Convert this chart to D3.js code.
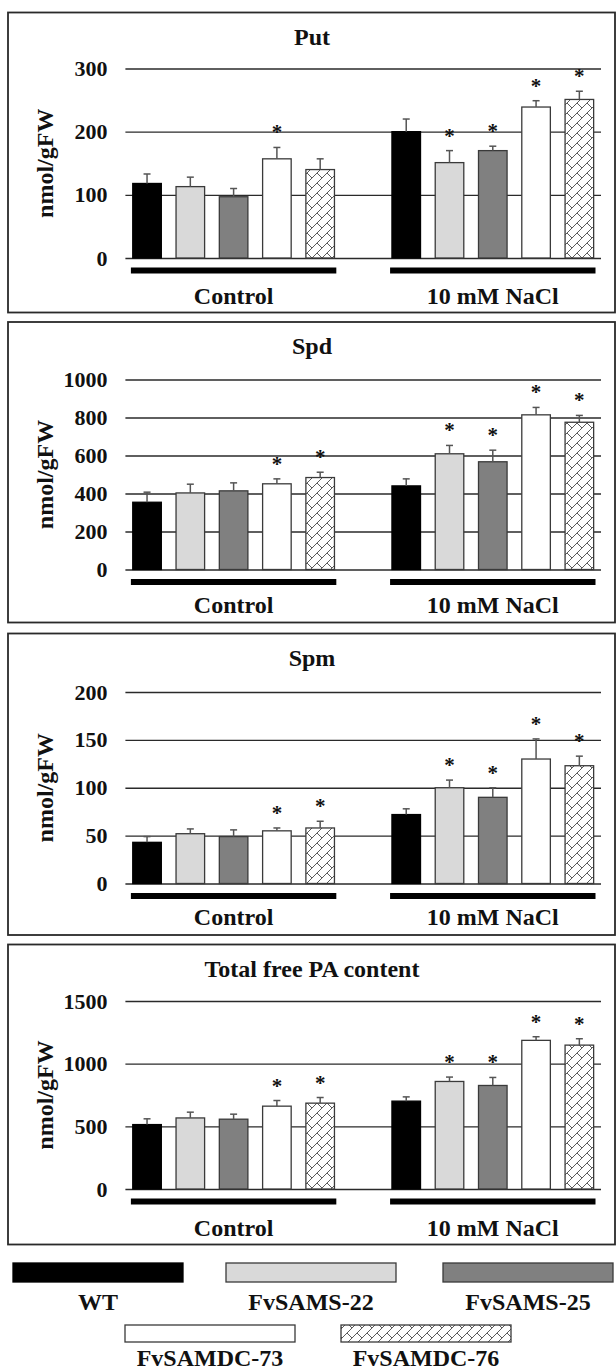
<!DOCTYPE html>
<html>
<head>
<meta charset="utf-8">
<script src="https://cdn.jsdelivr.net/npm/d3@7"></script>
<style>
  html, body { margin: 0; padding: 0; background: #fff; }
  svg { display: block; }
  text { font-family: "Liberation Serif", "Times New Roman", serif; font-weight: bold; fill: #111; }
</style>
</head>
<body>
<svg id="chart" width="616" height="1372"></svg>
<script>
// ---------- data ----------
const groups = ["Control", "10 mM NaCl"];
const lines = ["WT", "FvSAMS-22", "FvSAMS-25", "FvSAMDC-73", "FvSAMDC-76"];
const panelTitles = ["Put", "Spd", "Spm", "Total free PA content"];
const yLabel = "nmol/gFW";

// means: Control (5 lines) then 10 mM NaCl (5 lines)
const putMean = [118, 113, 97, 157, 140, 200, 151, 170, 239, 251];
const putSE   = [15, 15, 13, 18, 17, 20, 19, 7, 10, 13];
const putSig  = [0, 0, 0, 1, 0, 0, 1, 1, 1, 1];
const putTicks = [0, 100, 200, 300];

const spdMean = [354, 403, 414, 451, 484, 440, 609, 567, 814, 775];
const spdSE   = [53, 46, 42, 26, 28, 37, 44, 61, 39, 36];
const spdSig  = [0, 0, 0, 1, 1, 0, 1, 1, 1, 1];
const spdTicks = [0, 200, 400, 600, 800, 1000];

const spmMean = [43, 52, 49, 55, 58, 72, 100, 90, 130, 123];
const spmSE   = [6, 5, 7, 3, 7, 6, 8, 10, 21, 10];
const spmSig  = [0, 0, 0, 1, 1, 0, 1, 1, 1, 1];
const spmTicks = [0, 50, 100, 150, 200];

const totMean = [514, 567, 557, 661, 685, 701, 858, 826, 1186, 1148];
const totSE   = [46, 46, 40, 45, 45, 34, 35, 64, 29, 51];
const totSig  = [0, 0, 0, 1, 1, 0, 1, 1, 1, 1];
const totTicks = [0, 500, 1000, 1500];

// ---------- styles ----------
const fills = ["#000000", "#d9d9d9", "#808080", "#ffffff", "url(#hatch)"];
const strokes = ["#000000", "#3a3a3a", "#3a3a3a", "#3a3a3a", "#3a3a3a"];

const svg = d3.select("#chart");

// hatch pattern (shingle / zigzag diagonal)
const defs = svg.append("defs");
const pat = defs.append("pattern")
  .attr("id", "hatch").attr("patternUnits", "userSpaceOnUse")
  .attr("width", 10).attr("height", 10);
pat.append("rect").attr("width", 10).attr("height", 10).attr("fill", "#fff");
pat.append("path")
  .attr("d", "M0,10 L10,0 M-1,1 L1,-1 M9,11 L11,9 M7,3 L10,6 M0,6 L2,8 M2,8 L2,8")
  .attr("stroke", "#4a4a4a").attr("stroke-width", 0.9).attr("fill", "none");

const panels = [
  { title: panelTitles[0], mean: putMean, se: putSE, sig: putSig, ticks: putTicks },
  { title: panelTitles[1], mean: spdMean, se: spdSE, sig: spdSig, ticks: spdTicks },
  { title: panelTitles[2], mean: spmMean, se: spmSE, sig: spmSig, ticks: spmTicks },
  { title: panelTitles[3], mean: totMean, se: totSE, sig: totSig, ticks: totTicks }
];

// layout
const boxTop = [12.5, 322, 633.5, 944.5];
const boxBottom = [312.5, 622.5, 935, 1244.5];
const plotTop = [68.5, 379.5, 692, 1001];
const plotBottom = [258, 569.5, 883.5, 1189];
const xLeft = 125.4, xRight = 601;

const x0 = d3.scaleBand().domain(groups).range([xLeft, xRight])
  .paddingInner(0.165).paddingOuter(0);
const x1 = d3.scaleBand().domain(lines).range([0, x0.bandwidth()])
  .paddingInner(0.34).paddingOuter(0.17);

panels.forEach((p, pi) => {
  const g = svg.append("g");
  const top = boxTop[pi];
  const y = d3.scaleLinear()
    .domain([0, d3.max(p.ticks)])
    .range([plotBottom[pi], plotTop[pi]]);

  // panel border
  g.append("rect")
    .attr("x", 8).attr("y", top)
    .attr("width", 607).attr("height", boxBottom[pi] - top)
    .attr("fill", "none").attr("stroke", "#2a2a2a").attr("stroke-width", 1.8);

  // title
  g.append("text")
    .attr("x", 312).attr("y", top + 32)
    .attr("text-anchor", "middle")
    .style("font-size", "24px")
    .text(p.title);

  // y axis with gridlines
  const axis = d3.axisLeft(y).tickValues(p.ticks)
    .tickSize(-(xRight - xLeft)).tickPadding(18).tickFormat(d3.format("d"));
  const ag = g.append("g").attr("transform", `translate(${xLeft},0)`).call(axis);
  ag.select(".domain").remove();
  ag.selectAll(".tick line").attr("stroke", "#2a2a2a").attr("stroke-width", 1.4);
  ag.selectAll(".tick text")
    .style("font-size", "22px")
    .style("font-family", "'Liberation Serif', serif")
    .style("font-weight", "bold")
    .attr("fill", "#111");

  // y label
  g.append("text")
    .attr("transform", `translate(53,${(plotTop[pi] + plotBottom[pi]) / 2}) rotate(-90)`)
    .attr("text-anchor", "middle")
    .style("font-size", "24px")
    .text(yLabel);

  // bars
  const data = p.mean.map((v, i) => ({
    group: groups[Math.floor(i / lines.length)],
    line: lines[i % lines.length],
    li: i % lines.length,
    v: v, se: p.se[i], sig: p.sig[i]
  }));

  const bx = d => x0(d.group) + x1(d.line);

  g.selectAll("rect.bar").data(data).enter().append("rect")
    .attr("class", "bar")
    .attr("x", d => bx(d))
    .attr("y", d => y(d.v))
    .attr("width", x1.bandwidth())
    .attr("height", d => y(0) - y(d.v))
    .attr("fill", d => fills[d.li])
    .attr("stroke", d => strokes[d.li])
    .attr("stroke-width", 1.3);

  // error bars (upper only)
  const eg = g.selectAll("g.err").data(data).enter().append("g").attr("class", "err");
  eg.append("line")
    .attr("x1", d => bx(d) + x1.bandwidth() / 2)
    .attr("x2", d => bx(d) + x1.bandwidth() / 2)
    .attr("y1", d => y(d.v))
    .attr("y2", d => y(d.v + d.se))
    .attr("stroke", "#555").attr("stroke-width", 1.5);
  eg.append("line")
    .attr("x1", d => bx(d) + x1.bandwidth() / 2 - 3.5)
    .attr("x2", d => bx(d) + x1.bandwidth() / 2 + 3.5)
    .attr("y1", d => y(d.v + d.se))
    .attr("y2", d => y(d.v + d.se))
    .attr("stroke", "#555").attr("stroke-width", 1.5);

  // significance stars
  g.selectAll("text.star").data(data.filter(d => d.sig)).enter().append("text")
    .attr("class", "star")
    .attr("x", d => bx(d) + x1.bandwidth() / 2)
    .attr("y", d => y(d.v + d.se) - 8)
    .attr("text-anchor", "middle")
    .style("font-size", "21px")
    .attr("fill", "#222")
    .text("*");

  // group bars + labels
  groups.forEach(gr => {
    g.append("rect")
      .attr("x", x0(gr) + 5.5)
      .attr("y", y(0) + 9.5)
      .attr("width", x0.bandwidth() - 11)
      .attr("height", 6)
      .attr("fill", "#000");
    g.append("text")
      .attr("x", x0(gr) + x0.bandwidth() / 2)
      .attr("y", top + 291)
      .attr("text-anchor", "middle")
      .style("font-size", "24px")
      .text(gr);
  });
});

// ---------- legend ----------
const legendPos = [
  { x: 13, y: 1263, row: 0 }, { x: 226, y: 1263, row: 0 }, { x: 443, y: 1263, row: 0 },
  { x: 125, y: 1325, row: 1 }, { x: 341, y: 1325, row: 1 }
];
const lg = svg.append("g");
lines.forEach((name, i) => {
  const pos = legendPos[i];
  lg.append("rect")
    .attr("x", pos.x).attr("y", pos.y)
    .attr("width", 170).attr("height", pos.row === 0 ? 19 : 17)
    .attr("fill", fills[i]).attr("stroke", strokes[i]).attr("stroke-width", 1.3);
  lg.append("text")
    .attr("x", pos.x + 85)
    .attr("y", pos.row === 0 ? 1310 : 1366)
    .attr("text-anchor", "middle")
    .style("font-size", "24px")
    .text(name);
});
</script>
</body>
</html>
